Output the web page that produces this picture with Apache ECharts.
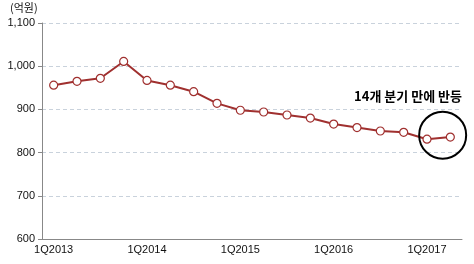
<!DOCTYPE html>
<html><head><meta charset="utf-8">
<script src="https://cdn.jsdelivr.net/npm/echarts@6/dist/echarts.min.js"></script>
<style>html,body{margin:0;padding:0;background:#fff}#c{width:474px;height:264px}</style>
</head><body><div id="c"></div>
<script>
const categories = ['1Q2013','2Q2013','3Q2013','4Q2013','1Q2014','2Q2014','3Q2014','4Q2014','1Q2015','2Q2015','3Q2015','4Q2015','1Q2016','2Q2016','3Q2016','4Q2016','1Q2017','2Q2017'];
const values = [956, 965, 972, 1011, 967, 956, 941, 914, 898, 894, 887, 880, 866, 858, 850, 847, 831, 836];
const unitLabel = '(억원)';
const annotationText = '14개 분기 만에 반등';

const chart = echarts.init(document.getElementById('c'));
const font = '"Liberation Sans", Arial, sans-serif';
const unitGraphic = {
  type: 'text', left: 10, top: 2,
  style: {text: unitLabel, fill: '#111', font: '11px "Noto Sans CJK KR", sans-serif'}
};
chart.setOption({
  animation: false,
  grid: {left: 42, right: 12, top: 23, bottom: 25},
  xAxis: {
    type: 'category', data: categories, boundaryGap: true,
    axisLine: {lineStyle: {color: '#888', width: 1}},
    axisTick: {interval: 3, length: 4, lineStyle: {color: '#888'}},
    axisLabel: {interval: 3, color: '#111', fontFamily: font, fontSize: 11, margin: 5}
  },
  yAxis: {
    type: 'value', min: 600, max: 1100, interval: 100,
    axisLine: {show: true, lineStyle: {color: '#888'}},
    axisTick: {show: true, length: 4, lineStyle: {color: '#888'}},
    axisLabel: {color: '#111', fontFamily: font, fontSize: 11, margin: 7,
      formatter: v => v.toLocaleString('en-US')},
    splitLine: {lineStyle: {color: '#c9d2dc', type: [4, 3], width: 1}}
  },
  graphic: [unitGraphic],
  series: [{
    type: 'line', data: values,
    symbol: 'circle', symbolSize: 8,
    lineStyle: {color: '#a0302f', width: 2},
    itemStyle: {color: '#fff', borderColor: '#a0302f', borderWidth: 1.2}
  }]
});
const p1 = chart.convertToPixel({seriesIndex: 0}, [16, values[16]]);
const p2 = chart.convertToPixel({seriesIndex: 0}, [17, values[17]]);
const cx = (p1[0] + p2[0]) / 2 + 4, cy = (p1[1] + p2[1]) / 2 - 3;
chart.setOption({
  graphic: [unitGraphic, {
    type: 'circle', shape: {cx: cx, cy: cy, r: 23.5},
    style: {fill: null, stroke: '#000', lineWidth: 2}, z: 10
  }, {
    type: 'text', x: 462, y: 96,
    style: {text: annotationText, fill: '#000', align: 'right', verticalAlign: 'middle',
      font: 'bold 13px "Noto Sans CJK KR", sans-serif'}, z: 10
  }]
});
</script></body></html>
